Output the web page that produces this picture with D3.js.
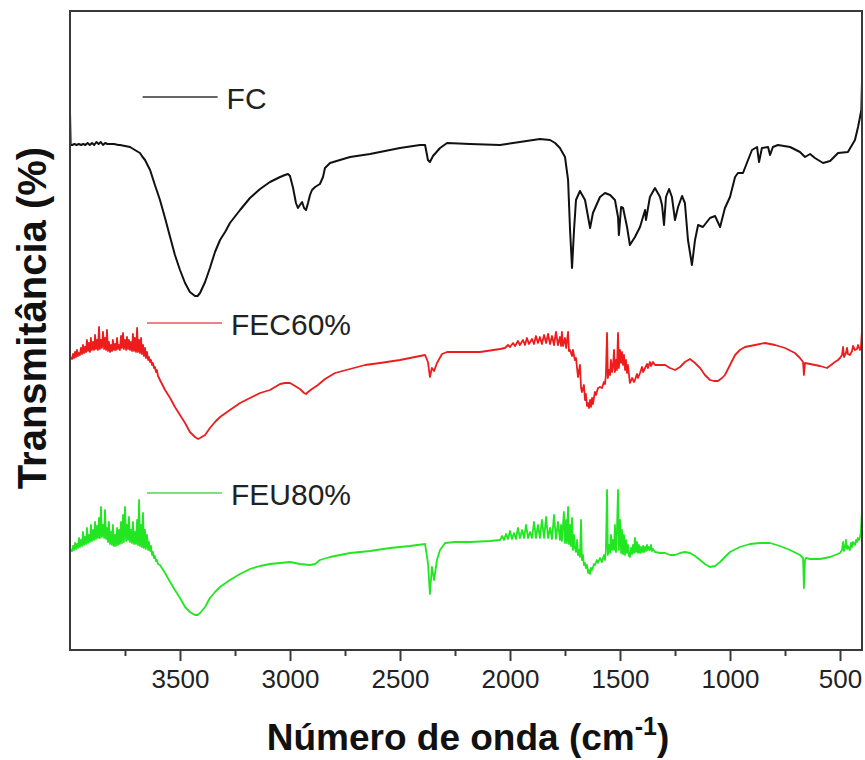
<!DOCTYPE html>
<html>
<head>
<meta charset="utf-8">
<script src="https://cdn.jsdelivr.net/npm/d3@7"></script>
<style>
  html, body { margin: 0; padding: 0; background: #fff; }
  svg { display: block; font-family: "Liberation Sans", Arial, sans-serif; }
</style>
</head>
<body>
<svg id="chart" width="865" height="760"></svg>
<script>
// ---- DATA (wavenumber cm-1, transmittance in arbitrary offset units) ----
const seriesNames = ["FC", "FEC60%", "FEU80%"];
const xTicks = [3500, 3000, 2500, 2000, 1500, 1000, 500];
const xMinorTicks = [3750, 3250, 2750, 2250, 1750, 1250, 750];
const xTitle = "Número de onda (cm";
const yTitle = "Transmitância (%)";

const FC = [[4000,538],[3997,505],[3990,505],[3980,506],[3970,505],[3960,506],[3950,505],[3940,506],[3930,505],[3920,507],[3910,505],[3900,507],[3890,505],[3880,508],[3870,506],[3860,508],[3850,505],[3840,507],[3830,506],[3820,506],[3800,506],[3780,505],[3773,505],[3750,504],[3727,503],[3705,500],[3682,497],[3670,493],[3659,490],[3636,480],[3614,465],[3591,450],[3568,432],[3545,413],[3523,395],[3500,380],[3477,367],[3455,358],[3432,354],[3420,354],[3409,357],[3386,368],[3364,382],[3341,398],[3318,410],[3295,418],[3273,427],[3227,440],[3182,452],[3136,461],[3091,468],[3045,473],[3023,475],[3009,476],[3000,474],[2986,462],[2973,447],[2964,442],[2955,445],[2945,448],[2936,442],[2927,440],[2918,447],[2909,455],[2900,460],[2886,463],[2864,466],[2850,473],[2841,482],[2818,487],[2773,490],[2727,493],[2636,496],[2591,498],[2500,502],[2409,505],[2386,505],[2373,490],[2364,488],[2350,494],[2318,502],[2286,507],[2182,506],[2045,505],[1955,508],[1864,511],[1818,510],[1795,507],[1773,502],[1750,493],[1736,470],[1727,420],[1718,382],[1709,420],[1700,450],[1682,459],[1659,450],[1645,433],[1636,422],[1623,437],[1591,453],[1568,457],[1545,455],[1523,450],[1509,433],[1505,415],[1495,443],[1486,442],[1468,423],[1455,405],[1432,413],[1409,423],[1386,440],[1382,430],[1364,453],[1341,462],[1318,453],[1309,445],[1300,425],[1291,453],[1277,461],[1264,453],[1250,430],[1236,443],[1218,454],[1205,447],[1191,410],[1173,385],[1159,410],[1145,425],[1123,423],[1091,432],[1068,434],[1045,423],[1023,442],[1000,453],[977,473],[964,477],[941,477],[918,490],[900,500],[877,503],[868,488],[855,502],[827,503],[818,495],[805,503],[782,505],[727,503],[682,498],[659,493],[636,496],[614,492],[577,487],[545,489],[509,497],[464,498],[432,510],[418,523],[409,533],[403,540],[400,568]];

const FEC60 = [[4000,291],[3995,292],[3991,291],[3986,296],[3982,292],[3977,298],[3973,293],[3968,300],[3964,294],[3959,297],[3955,295],[3950,302],[3945,296],[3941,305],[3936,297],[3932,303],[3927,298],[3923,310],[3918,299],[3914,307],[3909,298],[3905,312],[3900,300],[3895,308],[3891,300],[3886,315],[3882,301],[3877,310],[3873,300],[3868,323],[3864,301],[3859,310],[3855,302],[3850,318],[3845,301],[3841,312],[3836,300],[3832,320],[3827,299],[3823,308],[3818,298],[3814,305],[3809,299],[3805,310],[3800,300],[3795,306],[3791,300],[3786,312],[3782,301],[3777,305],[3773,300],[3768,314],[3764,302],[3759,317],[3755,301],[3750,310],[3745,300],[3741,313],[3736,301],[3732,310],[3727,300],[3723,308],[3718,299],[3714,316],[3709,299],[3705,312],[3700,298],[3695,322],[3691,298],[3686,310],[3682,297],[3677,312],[3673,296],[3668,305],[3664,294],[3659,302],[3655,292],[3650,298],[3645,290],[3641,293],[3636,288],[3632,290],[3627,285],[3623,287],[3618,282],[3614,283],[3609,278],[3605,280],[3600,274],[3591,270],[3568,260],[3545,252],[3523,243],[3500,235],[3477,227],[3455,218],[3432,213],[3418,211],[3409,212],[3386,215],[3364,222],[3341,228],[3318,233],[3273,240],[3227,247],[3182,252],[3136,257],[3091,260],[3045,266],[3023,267],[3000,267],[2977,264],[2955,261],[2936,257],[2927,256],[2918,258],[2900,261],[2873,265],[2841,271],[2795,277],[2727,281],[2659,285],[2591,287],[2500,290],[2409,294],[2386,295],[2373,288],[2364,273],[2355,282],[2345,279],[2332,287],[2309,296],[2286,298],[2136,298],[2045,301],[2023,302],[2009,305],[2000,303],[1986,307],[1977,304],[1964,309],[1955,305],[1941,310],[1932,305],[1923,312],[1914,306],[1900,311],[1891,306],[1882,314],[1873,307],[1864,313],[1855,306],[1845,315],[1836,307],[1827,316],[1818,306],[1809,314],[1800,305],[1791,318],[1782,305],[1773,313],[1768,304],[1764,318],[1759,304],[1750,312],[1745,302],[1736,318],[1732,299],[1727,300],[1718,294],[1714,300],[1705,290],[1700,292],[1691,273],[1682,285],[1677,262],[1673,258],[1664,265],[1659,250],[1655,256],[1650,244],[1645,247],[1641,242],[1636,250],[1632,243],[1627,252],[1623,246],[1614,258],[1609,255],[1600,262],[1591,263],[1582,262],[1573,268],[1568,266],[1564,275],[1559,317],[1555,272],[1550,280],[1545,275],[1541,290],[1536,278],[1532,283],[1527,300],[1523,278],[1518,290],[1514,280],[1509,317],[1505,282],[1500,300],[1495,287],[1491,298],[1486,285],[1482,295],[1477,280],[1473,290],[1468,277],[1464,285],[1455,267],[1445,272],[1436,268],[1432,270],[1423,276],[1418,272],[1409,277],[1400,283],[1395,278],[1386,282],[1377,286],[1373,282],[1364,288],[1359,284],[1350,288],[1341,285],[1318,285],[1295,285],[1273,282],[1250,280],[1227,283],[1205,288],[1182,291],[1159,287],[1136,282],[1114,275],[1091,270],[1073,269],[1055,269],[1036,272],[1023,275],[1000,285],[977,295],[955,300],[932,303],[886,305],[841,307],[795,305],[750,302],[705,297],[682,292],[668,288],[664,275],[659,287],[636,286],[591,284],[559,282],[523,288],[509,290],[500,292],[491,295],[486,303],[482,293],[473,297],[468,302],[464,296],[455,295],[445,299],[441,304],[432,300],[423,301],[418,305],[409,300],[405,302],[400,320]];

const FEU80 = [[4000,98],[3995,100],[3991,99],[3986,104],[3982,100],[3977,107],[3973,101],[3968,106],[3964,102],[3959,112],[3955,103],[3950,110],[3945,104],[3941,118],[3936,105],[3932,113],[3927,106],[3923,122],[3918,107],[3914,115],[3909,108],[3905,125],[3900,109],[3895,120],[3891,110],[3886,128],[3882,111],[3877,124],[3873,112],[3868,132],[3864,112],[3859,143],[3855,113],[3850,125],[3845,112],[3841,140],[3836,111],[3832,122],[3827,108],[3823,128],[3818,106],[3814,118],[3809,105],[3805,125],[3800,104],[3795,115],[3791,104],[3786,122],[3782,105],[3777,120],[3773,106],[3768,128],[3764,107],[3759,135],[3755,108],[3750,143],[3745,109],[3741,125],[3736,110],[3732,133],[3727,108],[3723,120],[3718,107],[3714,128],[3709,106],[3705,118],[3700,106],[3695,130],[3691,105],[3686,150],[3682,104],[3677,125],[3673,103],[3668,137],[3664,102],[3659,120],[3655,101],[3650,115],[3645,100],[3641,108],[3636,99],[3632,104],[3627,95],[3623,98],[3618,92],[3614,94],[3609,89],[3605,90],[3600,86],[3591,85],[3568,77],[3545,68],[3523,60],[3500,52],[3477,43],[3455,38],[3432,35],[3420,35],[3409,37],[3386,43],[3364,52],[3341,58],[3318,63],[3273,70],[3227,76],[3182,81],[3136,84],[3091,86],[3045,87],[3000,88],[2955,86],[2909,85],[2886,86],[2864,90],[2818,93],[2727,97],[2636,99],[2545,102],[2455,104],[2386,106],[2373,87],[2364,56],[2355,83],[2345,70],[2332,90],[2318,100],[2295,107],[2250,108],[2182,108],[2091,109],[2045,110],[2036,114],[2027,110],[2018,116],[2009,111],[2000,119],[1991,111],[1982,117],[1973,111],[1964,122],[1955,112],[1945,120],[1936,112],[1927,125],[1918,112],[1909,118],[1900,112],[1891,128],[1882,112],[1873,125],[1864,112],[1855,130],[1845,112],[1836,133],[1827,112],[1818,122],[1809,111],[1800,135],[1791,111],[1782,128],[1773,110],[1768,125],[1764,109],[1755,138],[1750,107],[1745,130],[1741,107],[1736,143],[1732,106],[1727,125],[1723,104],[1718,132],[1714,100],[1709,115],[1705,102],[1700,98],[1695,110],[1691,95],[1686,100],[1682,93],[1677,130],[1673,90],[1668,95],[1664,85],[1659,87],[1655,82],[1650,85],[1645,77],[1641,80],[1636,76],[1632,82],[1627,80],[1618,86],[1614,85],[1605,90],[1600,87],[1591,92],[1582,88],[1573,95],[1568,90],[1564,100],[1559,160],[1555,95],[1550,105],[1545,97],[1541,115],[1536,100],[1532,110],[1527,100],[1523,125],[1518,98],[1514,118],[1509,160],[1505,100],[1500,130],[1495,97],[1491,120],[1486,96],[1482,115],[1477,95],[1473,110],[1468,97],[1464,105],[1459,94],[1455,93],[1450,102],[1445,96],[1441,105],[1436,97],[1432,112],[1427,98],[1423,108],[1418,97],[1414,105],[1409,97],[1405,103],[1400,98],[1395,104],[1391,98],[1386,103],[1382,99],[1377,105],[1373,100],[1368,103],[1364,100],[1359,105],[1355,99],[1350,101],[1341,98],[1318,97],[1295,97],[1273,95],[1250,95],[1227,97],[1205,98],[1182,97],[1159,94],[1136,90],[1114,86],[1091,83],[1068,84],[1045,88],[1023,93],[1000,98],[955,103],[909,106],[864,107],[818,107],[773,104],[727,100],[682,95],[668,92],[664,62],[659,90],[655,92],[636,91],[591,91],[545,93],[500,97],[491,100],[486,108],[482,99],[477,102],[473,110],[468,101],[464,104],[455,100],[450,107],[445,103],[441,108],[432,105],[427,110],[423,108],[418,112],[414,110],[409,113],[405,118],[400,140]];

const seriesData = [FC, FEC60, FEU80];
const seriesColors = ["#111111", "#ee1c1c", "#22e622"];
const legendColors = ["#333333", "#e85a5a", "#4ed84e"];
// legend anchor points (wavenumber, transmittance units) for each curve label
const legendAnchors = [[3670, 553], [3650, 327], [3650, 157]];

// ---- LAYOUT ----
const svg = d3.select("#chart");
const L = 70, R = 862, T = 11, B = 650;

const x = d3.scaleLinear().domain([4000, 400]).range([L, R]);
const y = d3.scaleLinear().domain([0, 639]).range([B, T]);

// curves
const line = d3.line().x(d => x(d[0])).y(d => y(d[1]));
svg.append("g")
  .selectAll("path").data(seriesData).join("path")
  .attr("d", line)
  .attr("fill", "none")
  .attr("stroke", (d, i) => seriesColors[i])
  .attr("stroke-width", (d, i) => i === 0 ? 2 : 1.8)
  .attr("stroke-linejoin", "round");

// frame
svg.append("rect")
  .attr("x", L).attr("y", T).attr("width", R - L).attr("height", B - T)
  .attr("fill", "none").attr("stroke", "#3a3a3a").attr("stroke-width", 2);

// x axis (major)
const xAxis = d3.axisBottom(x).tickValues(xTicks).tickSize(11).tickPadding(9)
  .tickFormat(d3.format("d"));
const gx = svg.append("g").attr("transform", `translate(0,${B})`).call(xAxis);
gx.select(".domain").remove();
gx.selectAll(".tick line").attr("stroke", "#3a3a3a").attr("stroke-width", 2);
gx.selectAll(".tick text").attr("font-size", 26).attr("fill", "#222")
  .attr("font-family", "Liberation Sans, Arial, sans-serif");

// minor ticks
const xMinor = d3.axisBottom(x).tickValues(xMinorTicks).tickSize(6).tickFormat("");
const gm = svg.append("g").attr("transform", `translate(0,${B})`).call(xMinor);
gm.select(".domain").remove();
gm.selectAll(".tick line").attr("stroke", "#3a3a3a").attr("stroke-width", 2);

// legends (per-curve labels)
const lg = svg.append("g");
legendAnchors.forEach((a, i) => {
  const lx = x(a[0]), ly = y(a[1]);
  lg.append("line").attr("x1", lx).attr("x2", lx + 75).attr("y1", ly).attr("y2", ly)
    .attr("stroke", legendColors[i]).attr("stroke-width", 1.6);
  lg.append("text").attr("x", lx + 84).attr("y", ly + 12)
    .attr("font-size", 30).attr("fill", "#222").text(seriesNames[i]);
});

// x title
const xt = svg.append("text").attr("x", 468).attr("y", 750)
  .attr("text-anchor", "middle").attr("font-size", 37).attr("font-weight", "bold")
  .attr("fill", "#111");
xt.append("tspan").text(xTitle);
xt.append("tspan").attr("font-size", 25).attr("dy", -15).text("-1");
xt.append("tspan").attr("dy", 15).text(")");

// y title
svg.append("text")
  .attr("transform", "translate(46,318) rotate(-90)")
  .attr("text-anchor", "middle").attr("font-size", 40).attr("font-weight", "bold")
  .attr("fill", "#111").text(yTitle);
</script>
</body>
</html>
